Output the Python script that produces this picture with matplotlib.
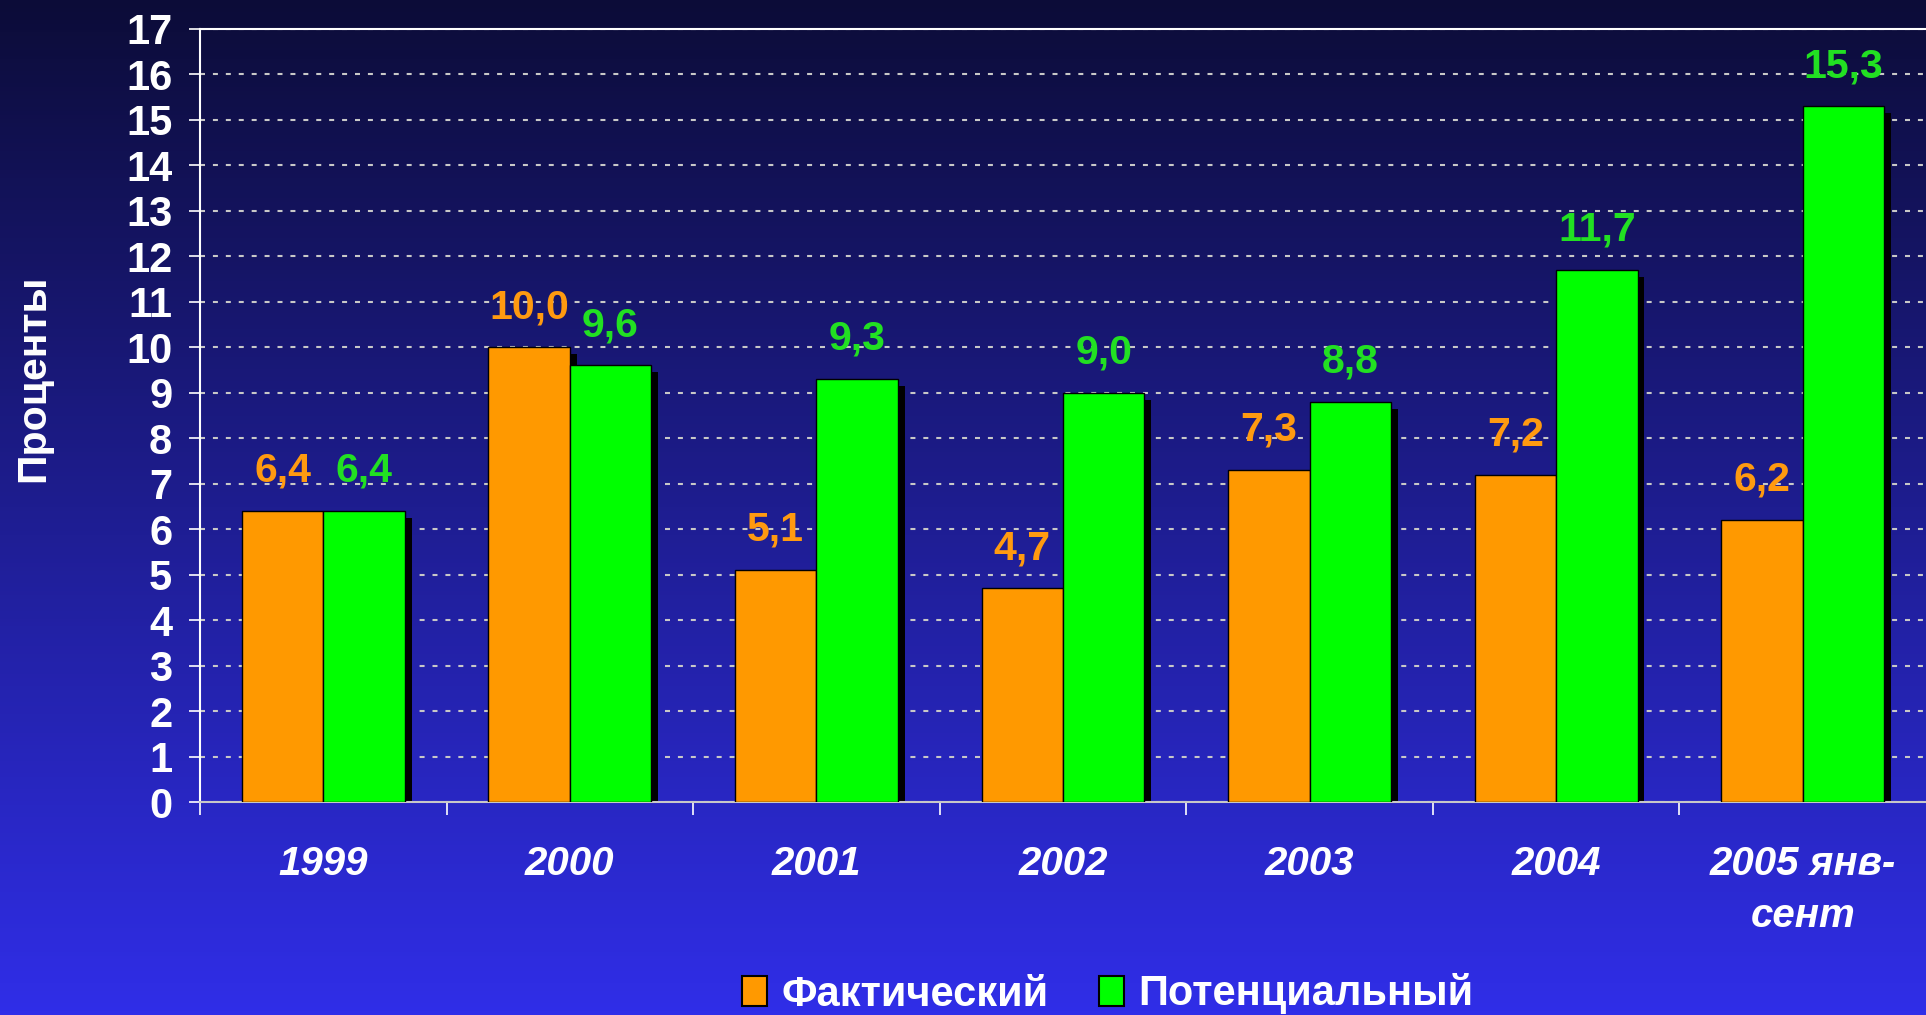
import numpy as np
import matplotlib
matplotlib.use("Agg")
import matplotlib.pyplot as plt
from matplotlib.patches import Patch

# data
years = ["1999", "2000", "2001", "2002", "2003", "2004", "2005 янв-\nсент"]
fact = [6.4, 10.0, 5.1, 4.7, 7.3, 7.2, 6.2]
pot = [6.4, 9.6, 9.3, 9.0, 8.8, 11.7, 15.3]
series_names = ["Фактический", "Потенциальный"]

ORANGE = "#ff9900"
GREEN = "#00ff00"
ORANGE_TXT = "#ff9a10"
GREEN_TXT = "#22e022"

plt.rcParams['font.family'] = ['Liberation Sans', 'DejaVu Sans']

W, H = 1926, 1015
fig = plt.figure(figsize=(W / 100, H / 100), dpi=100)

# background gradient
bg = fig.add_axes([0, 0, 1, 1], zorder=-10)
top = np.array([12, 12, 56]) / 255
bot = np.array([48, 46, 232]) / 255
t = np.linspace(0, 1, 256)[:, None]
grad = top + (bot - top) * t
bg.imshow(grad[:, None, :], aspect='auto', extent=[0, 1, 0, 1])
bg.axis('off')

ax = fig.add_axes([200 / W, 1 - 802 / H, 1 - 200 / W, (802 - 29) / H])
ax.set_facecolor('none')

x = np.arange(len(years))
w = 0.33
dx = 0.028   # shadow shift in x
dy = 0.15    # shadow shift in y

# shadows
ax.bar(x - w / 2 + dx, np.array(fact) - dy, w, color='black', zorder=2)
ax.bar(x + w / 2 + dx, np.array(pot) - dy, w, color='black', zorder=2)
# bars
ax.bar(x - w / 2, fact, w, color=ORANGE, edgecolor='black', linewidth=1, zorder=3)
ax.bar(x + w / 2, pot, w, color=GREEN, edgecolor='black', linewidth=1, zorder=4)

for xi, v in zip(x, fact):
    ax.annotate(f"{v:.1f}".replace('.', ','), (xi - w / 2, v), xytext=(0, 29),
                textcoords='offset points', ha='center', va='center',
                color=ORANGE_TXT, fontsize=29.5, fontweight='bold', zorder=6)
for xi, v in zip(x, pot):
    ax.annotate(f"{v:.1f}".replace('.', ','), (xi + w / 2, v), xytext=(0, 29),
                textcoords='offset points', ha='center', va='center',
                color=GREEN_TXT, fontsize=29.5, fontweight='bold', zorder=6)

ax.set_xlim(-0.5, 6.5)
ax.set_ylim(0, 17)

ax.set_yticks(range(18))
ax.tick_params(axis='y', colors='white', labelsize=30, length=8, width=1.2, pad=12)
for lbl in ax.get_yticklabels():
    lbl.set_fontweight('bold')

ax.set_xticks(x)
ax.set_xticklabels(years, fontsize=29, fontweight='bold', style='italic',
                   color='white', linespacing=1.45)
ax.tick_params(axis='x', which='major', length=0, pad=31)
ax.set_xticks(np.arange(-0.5, 6.5, 1.0), minor=True)
ax.tick_params(axis='x', which='minor', length=9, width=1.2, color='white')

ax.yaxis.grid(True, color='#c8c8c8', linestyle=(0, (2.4, 3.8)), linewidth=1.5)
ax.set_axisbelow(True)

ax.spines['right'].set_visible(False)
ax.spines['left'].set_color('white')
ax.spines['top'].set_color('white')
ax.spines['bottom'].set_color('#c8c8c8')
for s in ['left', 'top', 'bottom']:
    ax.spines[s].set_linewidth(1.5)

fig.text(33 / W, 1 - 378 / H, "Проценты", rotation=90, ha='center', va='center',
         color='white', fontsize=29.5, fontweight='bold')

handles = [Patch(facecolor=ORANGE, edgecolor='black', linewidth=1.5),
           Patch(facecolor=GREEN, edgecolor='black', linewidth=1.5)]
leg = fig.legend(handles, series_names, loc='center', bbox_to_anchor=(1108 / W, 1 - 994 / H),
                 ncol=2, frameon=False, fontsize=30, handlelength=0.6, handleheight=0.7,
                 handletextpad=0.35, columnspacing=1.2, borderaxespad=0, borderpad=0)
for txt in leg.get_texts():
    txt.set_color('white')
    txt.set_fontweight('bold')

fig.savefig("out.png", dpi=100)
